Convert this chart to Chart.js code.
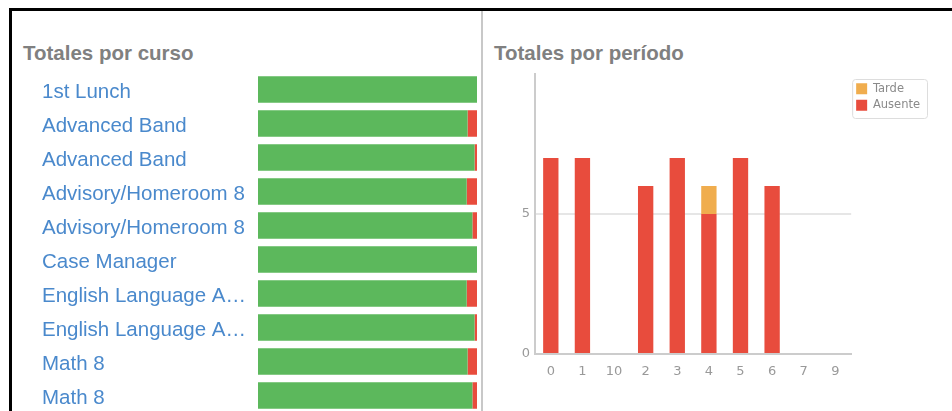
<!DOCTYPE html>
<html>
<head>
<meta charset="utf-8">
<script src="https://cdn.jsdelivr.net/npm/chart.js@4"></script>
<style>
  html, body { margin: 0; padding: 0; background: #fff; }
  body { width: 952px; height: 411px; overflow: hidden; position: relative; }
  .frame { position: absolute; left: 9px; top: 8px; width: 940px; height: 500px;
    border-left: 3px solid #000; border-top: 3px solid #000; border-right: 3px solid #000; }
  .divider { position: absolute; left: 481px; top: 11px; width: 2px; height: 420px; background: #c8c8c8; }
  .panel-title { position: absolute; top: 43px; font: bold 20.5px "Liberation Sans", Arial, sans-serif;
    line-height: 20.5px; color: #808080; white-space: nowrap; }
  .chart-box { position: absolute; }
</style>
</head>
<body>
<div class="frame"></div>
<div class="divider"></div>
<div class="panel-title" style="left:23px">Totales por curso</div>
<div class="panel-title" style="left:494px">Totales por período</div>
<div class="chart-box" style="left:0px;top:66px;width:482px;height:350px"><canvas id="courseChart"></canvas></div>
<div class="chart-box" style="left:484px;top:66px;width:466px;height:345px"><canvas id="periodChart"></canvas></div>
<script>
// per-course totals (share of sessions, %)
const courseNames = ['1st Lunch', 'Advanced Band', 'Advanced Band', 'Advisory/Homeroom 8', 'Advisory/Homeroom 8',
  'Case Manager', 'English Language Arts 8', 'English Language Arts 8', 'Math 8', 'Math 8'];
const coursePresent = [100, 95.7, 98.9, 95.3, 97.9, 100, 95.3, 98.9, 95.7, 97.9];
const courseAbsent = [0, 4.3, 1.1, 4.7, 2.1, 0, 4.7, 1.1, 4.3, 2.1];

// per-period totals
const periodLabels = ['0', '1', '10', '2', '3', '4', '5', '6', '7', '9'];
const periodAbsent = [7, 7, 0, 6, 7, 5, 7, 6, 0, 0];
const periodLate = [0, 0, 0, 0, 0, 1, 0, 0, 0, 0];
const periodTicks = [0, 5];

const green = '#5cb85c';
const red = '#e84c3d';
const orange = '#f0ad4e';
const labelFont = '"Liberation Sans", Arial, sans-serif';
const tickFont = '"DejaVu Sans", Verdana, sans-serif';

Chart.defaults.animation = false;
Chart.defaults.responsive = true;
Chart.defaults.maintainAspectRatio = false;

const measureCtx = document.createElement('canvas').getContext('2d');
measureCtx.font = '20.5px ' + labelFont;

function fitLabel(text, maxWidth) {
  if (measureCtx.measureText(text).width <= maxWidth) return text;
  let cut = text;
  while (cut.length > 1 && measureCtx.measureText(cut + '…').width > maxWidth) {
    cut = cut.slice(0, -1);
  }
  return cut.trimEnd() + '…';
}

function fixSize(width, height) {
  return scale => {
    if (width != null) scale.width = width;
    if (height != null) scale.height = height;
    scale.paddingTop = 0;
    scale.paddingBottom = 0;
    scale.paddingLeft = 0;
    scale.paddingRight = 0;
  };
}

new Chart(document.getElementById('courseChart'), {
  type: 'bar',
  data: {
    labels: courseNames,
    datasets: [
      { label: 'Presente', data: coursePresent, backgroundColor: green },
      { label: 'Ausente', data: courseAbsent, backgroundColor: red },
    ],
  },
  options: {
    indexAxis: 'y',
    layout: { padding: { left: 42, right: 5, top: 6.5, bottom: 3.5 } },
    datasets: { bar: { barPercentage: 0.78, categoryPercentage: 1 } },
    plugins: { legend: { display: false }, tooltip: { enabled: false } },
    scales: {
      x: { stacked: true, min: 0, max: 100, display: false },
      y: {
        stacked: true,
        grid: { display: false },
        border: { display: false },
        afterFit: fixSize(216, null),
        ticks: {
          crossAlign: 'far',
          labelOffset: 2.5,
          color: '#4a89cc',
          font: { family: labelFont, size: 20.5 },
          callback: function (value) {
            return fitLabel(this.getLabelForValue(value), 208);
          },
        },
      },
    },
  },
});

const legendFrame = {
  id: 'legendFrame',
  afterUpdate(chart) {
    chart.legend.top += 4;
    chart.legend.bottom += 4;
  },
  afterDraw(chart) {
    const lg = chart.legend;
    const pad = lg.options.labels.padding;
    const size = lg.options.labels.font.size;
    const ctx = chart.ctx;
    const h = lg.legendItems.length * (size + pad) + 6;
    ctx.save();
    ctx.strokeStyle = '#dddddd';
    ctx.lineWidth = 1;
    ctx.beginPath();
    ctx.roundRect(lg.left + 1.5, lg.top + 1.5, lg.width - 4, h, 3);
    ctx.stroke();
    ctx.restore();
  },
};

new Chart(document.getElementById('periodChart'), {
  type: 'bar',
  data: {
    labels: periodLabels,
    datasets: [
      { label: 'Ausente', data: periodAbsent, backgroundColor: red },
      { label: 'Tarde', data: periodLate, backgroundColor: orange },
    ],
  },
  options: {
    layout: { padding: { left: 0, right: 20, top: 8, bottom: 0 } },
    datasets: { bar: { barPercentage: 0.485, categoryPercentage: 1 } },
    plugins: {
      tooltip: { enabled: false },
      legend: {
        position: 'right',
        align: 'start',
        reverse: true,
        labels: {
          boxWidth: 11,
          boxHeight: 11,
          padding: 5,
          color: '#8a8a8a',
          font: { family: tickFont, size: 11.5 },
        },
      },
    },
    scales: {
      x: {
        stacked: true,
        grid: { display: false },
        border: { display: true, color: '#cccccc', width: 2 },
        afterFit: fixSize(null, 57),
        ticks: { color: '#999999', padding: 2, font: { family: tickFont, size: 13 } },
      },
      y: {
        stacked: true,
        min: 0,
        max: 10,
        afterFit: fixSize(51, null),
        afterBuildTicks: scale => { scale.ticks = periodTicks.map(v => ({ value: v })); },
        grid: { color: '#e6e6e6', lineWidth: 2, drawTicks: false },
        border: { color: '#cccccc', width: 2 },
        ticks: { color: '#999999', padding: 5, font: { family: tickFont, size: 13 } },
      },
    },
  },
  plugins: [legendFrame],
});
</script>
</body>
</html>
